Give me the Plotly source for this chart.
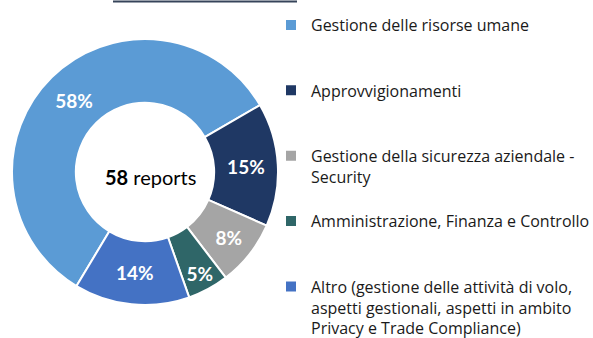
import plotly.graph_objects as go

# Report distribution by area (percent of 58 reports)
categories = [
    "Gestione delle risorse umane",
    "Approvvigionamenti",
    "Gestione della sicurezza aziendale -<br>Security",
    "Amministrazione, Finanza e Controllo",
    "Altro (gestione delle attività di volo,<br>aspetti gestionali, aspetti in ambito<br>Privacy e Trade Compliance)",
]
shares = [58, 15, 8, 5, 14]
colors = ["#5B9BD5", "#1F3864", "#A5A5A5", "#2F6668", "#4472C4"]
total_reports = 58

# pad legend entries to 3 lines so entries are evenly spaced
def pad(label, lines=3):
    n = label.count("<br>") + 1
    return label + "<br> " * max(0, lines - n)

legend_labels = [pad(c) for c in categories]

W, H = 593, 338
cx, cy, r = 145, 172, 133

fig = go.Figure(
    go.Pie(
        labels=legend_labels,
        values=shares,
        sort=False,
        direction="clockwise",
        rotation=211,
        hole=0.52,
        marker=dict(colors=colors, line=dict(color="white", width=2)),
        texttemplate="%{value}%",
        textposition="inside",
        insidetextorientation="horizontal",
        textfont=dict(family="Lato", size=19, color="white", weight="bold"),
        hoverinfo="label+value",
        domain=dict(
            x=[(cx - r) / W, (cx + r) / W],
            y=[(H - cy - r) / H, (H - cy + r) / H],
        ),
    )
)

fig.add_annotation(
    x=151 / W, y=(H - 177) / H, xref="paper", yref="paper",
    xanchor="center", yanchor="middle",
    text=f"<b>{total_reports}</b> reports", showarrow=False,
    font=dict(family="Lato", size=20, color="black"),
)

# underline of the heading
fig.add_shape(
    type="line", xref="paper", yref="paper",
    x0=113 / W, x1=297 / W, y0=(H - 1.5) / H, y1=(H - 1.5) / H,
    line=dict(color="#36445A", width=2),
)

fig.update_layout(
    width=W, height=H,
    margin=dict(l=0, r=0, t=0, b=0, autoexpand=False),
    paper_bgcolor="white",
    plot_bgcolor="white",
    showlegend=True,
    legend=dict(
        x=271 / W, y=1 - 8 / H, xanchor="left", yanchor="top",
        valign="top",
        font=dict(family="Open Sans", size=16, color="#1a1a1a"),
        bgcolor="rgba(0,0,0,0)",
    ),
)

fig.write_html("out.html")
